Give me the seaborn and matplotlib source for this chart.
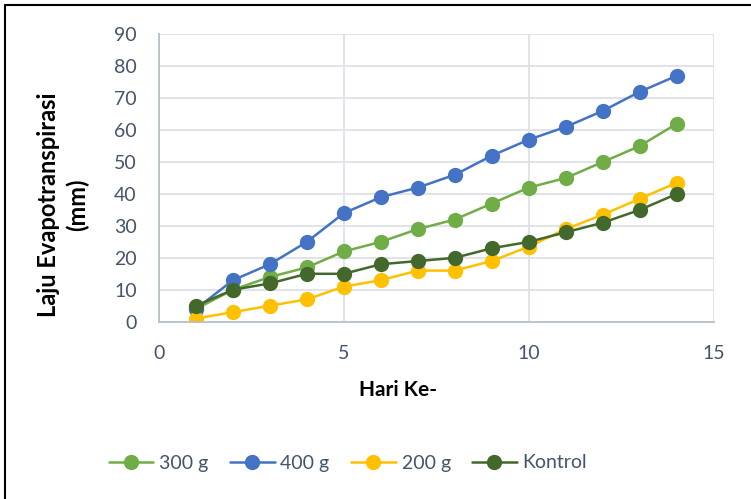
import matplotlib
matplotlib.use("Agg")
import matplotlib.pyplot as plt
from matplotlib.lines import Line2D
import seaborn as sns
import pandas as pd

# Days of observation
hari = list(range(1, 15))

# Evapotranspiration (mm) per treatment
seri_300g = [4, 10, 14, 17, 22, 25, 29, 32, 37, 42, 45, 50, 55, 62]
seri_400g = [4, 13, 18, 25, 34, 39, 42, 46, 52, 57, 61, 66, 72, 77]
seri_200g = [1, 3, 5, 7, 11, 13, 16, 16, 19, 23.5, 29, 33.5, 38.5, 43.5]
seri_kontrol = [5, 10, 12, 15, 15, 18, 19, 20, 23, 25, 28, 31, 35, 40]

labels = ["300 g", "400 g", "200 g", "Kontrol"]
colors = ["#70AD47", "#4472C4", "#FFC000", "#43682B"]

x_ticks = [0, 5, 10, 15]
y_ticks = [0, 10, 20, 30, 40, 50, 60, 70, 80, 90]

df = pd.DataFrame({
    "Hari": hari * 4,
    "Nilai": seri_300g + seri_400g + seri_200g + seri_kontrol,
    "Perlakuan": sum([[lab] * len(hari) for lab in labels], []),
})

sns.set_theme(style="white")
plt.rcParams["font.family"] = ["Lato", "DejaVu Sans"]

tick_color = "#44546A"
grid_color = "#DDE1E7"

fig = plt.figure(figsize=(7.51, 4.99), dpi=100)
ax = fig.add_axes([0.2117, 0.3553, 0.9503 - 0.2117, 0.9313 - 0.3553])

sns.lineplot(
    data=df, x="Hari", y="Nilai", hue="Perlakuan", hue_order=labels,
    palette=colors, marker="o", markersize=11, linewidth=1.8,
    markeredgewidth=0, legend=False, ax=ax,
)

ax.set_xlim(0, 15)
ax.set_ylim(0, 90)
ax.set_xticks(x_ticks)
ax.set_yticks(y_ticks)
ax.grid(True, color=grid_color, linewidth=1.3)
ax.set_axisbelow(True)
for side in ["top", "right"]:
    ax.spines[side].set_visible(False)
for side in ["left", "bottom"]:
    ax.spines[side].set_color("#B8C0CC")
    ax.spines[side].set_linewidth(1.3)
ax.tick_params(axis="x", length=0, pad=17, labelsize=14, labelcolor=tick_color)
ax.tick_params(axis="y", length=0, pad=16, labelsize=14, labelcolor=tick_color)
ax.set_xlabel("")
ax.set_ylabel("")

fig.text(398 / 751, 1 - 390 / 499, "Hari Ke-", ha="center", va="center",
         fontsize=15, fontweight="bold", color="black")
fig.text(63 / 751, 1 - 205 / 499, "Laju Evapotranspirasi\n(mm)", ha="center",
         va="center", rotation=90, fontsize=17, fontweight="bold",
         color="black", linespacing=1.25)

handles = [
    Line2D([0], [0], color=c, marker="o", markersize=11, linewidth=1.8,
           markeredgewidth=0)
    for c in colors
]
leg = fig.legend(handles, labels, loc="center", bbox_to_anchor=(348 / 751, 1 - 463 / 499),
                 ncol=4, frameon=False, fontsize=14, handlelength=2.3,
                 columnspacing=1.1, handletextpad=0.3)
for t in leg.get_texts():
    t.set_color(tick_color)

# Outer frame of the chart box
fig.add_artist(Line2D([5 / 751, 5 / 751], [0, 1 - 5 / 499], color="black",
                      linewidth=1.5, transform=fig.transFigure))
fig.add_artist(Line2D([5 / 751, 1], [1 - 5 / 499, 1 - 5 / 499], color="black",
                      linewidth=1.5, transform=fig.transFigure))

fig.savefig("out.png", dpi=100)
